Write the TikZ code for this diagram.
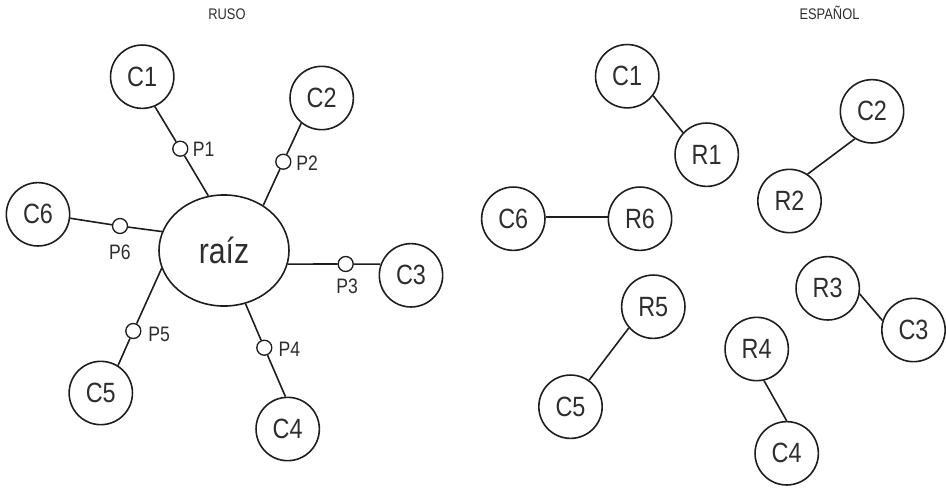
\documentclass[tikz,border=0pt]{standalone}
\usepackage{fontspec}
\setmainfont{Liberation Sans}[FakeStretch=0.84]
\usetikzlibrary{shapes.geometric}
\definecolor{txt}{HTML}{2E2E2E}
\definecolor{ln}{HTML}{1E1E1E}
\begin{document}
\begin{tikzpicture}[x=0.75pt,y=-0.75pt,
  every node/.style={text=txt},
  big/.style={circle,draw=ln,line width=1.2pt,minimum size=47.5pt,inner sep=0pt,font=\fontsize{20.9}{24}\selectfont},
  root/.style={ellipse,draw=ln,line width=1.2pt,minimum width=97.5pt,minimum height=83.3pt,inner sep=0pt,font=\fontsize{27}{32}\selectfont},
  port/.style={circle,draw=ln,fill=white,line width=1pt,minimum size=11.25pt,inner sep=0pt},
  plab/.style={anchor=base,inner sep=0pt,font=\fontsize{15.7}{18}\selectfont},
  ttl/.style={anchor=base,inner sep=0pt,font=\fontsize{11.5}{14}\selectfont},
  edge/.style={draw=ln,line width=1.2pt}
]
\useasboundingbox (0,0) rectangle (946,487);

% titles
\node[ttl] (tru) at (227,19.3) {RUSO};
\node[ttl] (tes) at (829.5,19.3) {ESPAÑOL};

% left: Russian
\node[root] (raiz) at (224,250.5) {raíz};
\node[big] (LC1) at (142.2,76.7) {C1};
\node[big] (LC2) at (321.7,98) {C2};
\node[big] (LC3) at (411,275.3) {C3};
\node[big] (LC4) at (287.7,429) {C4};
\node[big] (LC5) at (100.8,393) {C5};
\node[big] (LC6) at (38,214.3) {C6};

\node[port] (P1) at (180.3,148.7) {};
\node[port] (P2) at (283.3,161.7) {};
\node[port] (P3) at (345.7,264) {};
\node[port] (P4) at (264.3,347.7) {};
\node[port] (P5) at (133.3,331) {};
\node[port] (P6) at (120,226) {};

\node[plab] (L1) at (203.7,156.7) {P1};
\node[plab] (L2) at (307.2,170) {P2};
\node[plab] (L3) at (347.2,293.3) {P3};
\node[plab] (L4) at (289.5,356.7) {P4};
\node[plab] (L5) at (159.2,341) {P5};
\node[plab] (L6) at (120,259.3) {P6};

\draw[edge] (LC1.-67) -- (P1) -- (raiz.106);
\draw[edge] (LC2.231.5) -- (P2) -- (raiz.49.4);
\draw[edge] (raiz.-12) -- (P3) -- (LC3.160);
\draw[edge] (raiz.-68.6) -- (P4) -- (LC4.94.8);
\draw[edge] (raiz.196) -- (P5) -- (LC5.58);
\draw[edge] (LC6.-7) -- (P6) -- (raiz.163);

% right: Spanish
\node[big] (RC1) at (627.2,76.2) {C1};
\node[big] (RR1) at (706.7,154.7) {R1};
\node[big] (RC2) at (872,111.3) {C2};
\node[big] (RR2) at (789.5,201) {R2};
\node[big] (RC6) at (513.3,218.7) {C6};
\node[big] (RR6) at (640,218.7) {R6};
\node[big] (RR5) at (653.3,306.7) {R5};
\node[big] (RC5) at (570.5,406.7) {C5};
\node[big] (RR3) at (827.7,288.3) {R3};
\node[big] (RC3) at (913.5,330) {C3};
\node[big] (RR4) at (756.7,349) {R4};
\node[big] (RC4) at (786.7,453.3) {C4};

\draw[edge] (RC1.-37.5) -- (RR1.137);
\draw[edge] (RC2.238) -- (RR2.56);
\draw[edge] (RC6.3) -- (RR6.177);
\draw[edge] (RR5.221) -- (RC5.55.5);
\draw[edge] (RR3.-10) -- (RC3.163);
\draw[edge] (RR4.-77) -- (RC4.90);
\end{tikzpicture}
\end{document}
